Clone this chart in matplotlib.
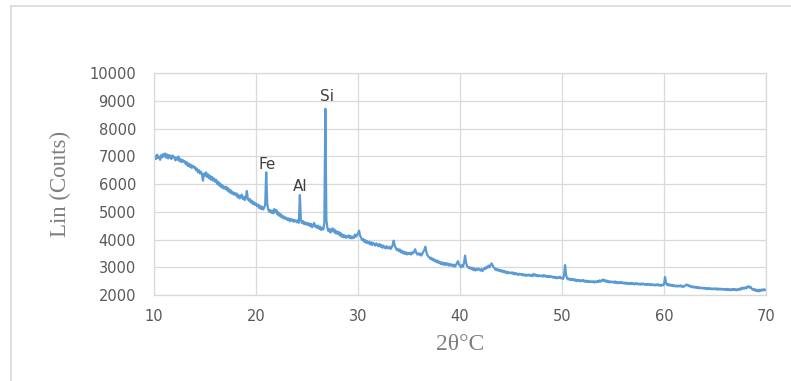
import numpy as np
import matplotlib
matplotlib.use("Agg")
import matplotlib.pyplot as plt
from matplotlib.lines import Line2D

# 2-theta positions (degrees), 0.1 step from 10 to 70
two_theta = np.round(np.arange(10.0, 70.0001, 0.1), 1)

# Intensity (counts), 10 values per degree
lin_counts = [
    6880, 7010, 6900, 7060, 6940, 6990, 6870, 7040, 6960, 7080,  # 10
    6990, 7100, 6950, 7060, 6920, 7040, 7000, 6900, 7030, 6960,  # 11
    6980, 6850, 6950, 6880, 6990, 6820, 6900, 6790, 6870, 6800,  # 12
    6830, 6720, 6790, 6650, 6740, 6620, 6700, 6580, 6660, 6590,  # 13
    6620, 6500, 6560, 6420, 6500, 6380, 6450, 6340, 6120, 6380,  # 14
    6300, 6420, 6250, 6350, 6200, 6300, 6150, 6250, 6120, 6200,  # 15
    6080, 6150, 6000, 6080, 5940, 6020, 5880, 5960, 5840, 5900,  # 16
    5820, 5900, 5760, 5840, 5700, 5780, 5660, 5720, 5620, 5680,  # 17
    5600, 5660, 5520, 5600, 5480, 5560, 5620, 5460, 5540, 5420,  # 18
    5500, 5750, 5460, 5400, 5460, 5330, 5400, 5280, 5340, 5250,  # 19
    5300, 5200, 5260, 5140, 5220, 5100, 5180, 5080, 5150, 5250,  # 20
    6420, 5300, 5080, 5000, 5060, 4960, 5040, 4940, 5100, 4980,  # 21
    5060, 4900, 4980, 4850, 4920, 4800, 4860, 4760, 4820, 4740,  # 22
    4780, 4700, 4760, 4660, 4740, 4680, 4720, 4640, 4700, 4660,  # 23
    4620, 4700, 4600, 5600, 4720, 4600, 4660, 4560, 4620, 4540,  # 24
    4600, 4520, 4580, 4480, 4560, 4440, 4520, 4600, 4460, 4500,  # 25
    4420, 4500, 4380, 4460, 4340, 4420, 4360, 4600, 8710, 4700,  # 26
    4420, 4300, 4380, 4250, 4350, 4400, 4280, 4360, 4220, 4300,  # 27
    4200, 4280, 4150, 4230, 4100, 4180, 4080, 4150, 4060, 4120,  # 28
    4080, 4150, 4050, 4120, 4040, 4100, 4060, 4180, 4100, 4150,  # 29
    4220, 4320, 4150, 4060, 3980, 4020, 3920, 3980, 3880, 3940,  # 30
    3860, 3920, 3820, 3900, 3800, 3880, 3840, 3780, 3860, 3800,  # 31
    3760, 3840, 3740, 3800, 3700, 3780, 3720, 3680, 3760, 3700,  # 32
    3680, 3740, 3660, 3720, 3800, 3960, 3780, 3700, 3620, 3660,  # 33
    3580, 3640, 3540, 3600, 3500, 3560, 3480, 3540, 3460, 3520,  # 34
    3480, 3520, 3460, 3540, 3500, 3560, 3650, 3540, 3460, 3500,  # 35
    3450, 3500, 3420, 3480, 3560, 3620, 3740, 3560, 3440, 3380,  # 36
    3360, 3300, 3340, 3260, 3300, 3220, 3260, 3180, 3240, 3160,  # 37
    3200, 3120, 3180, 3100, 3160, 3080, 3150, 3090, 3140, 3060,  # 38
    3120, 3060, 3100, 3040, 3090, 3020, 3080, 3150, 3220, 3100,  # 39
    3060, 3000, 3080, 3020, 3180, 3420, 3150, 3040, 3000, 2960,  # 40
    3000, 2940, 2980, 2900, 2960, 2880, 2940, 2900, 2960, 2920,  # 41
    2880, 2940, 2860, 2920, 2980, 2940, 3020, 2980, 3060, 3000,  # 42
    3080, 3140, 3060, 3000, 2960, 2900, 2940, 2880, 2920, 2860,  # 43
    2900, 2840, 2880, 2820, 2860, 2800, 2840, 2780, 2820, 2800,  # 44
    2780, 2820, 2760, 2800, 2740, 2790, 2760, 2720, 2770, 2740,  # 45
    2760, 2710, 2750, 2700, 2740, 2690, 2730, 2700, 2740, 2690,  # 46
    2720, 2680, 2760, 2700, 2740, 2680, 2720, 2670, 2710, 2680,  # 47
    2700, 2660, 2720, 2670, 2700, 2650, 2690, 2640, 2680, 2650,  # 48
    2670, 2630, 2660, 2610, 2650, 2600, 2640, 2610, 2660, 2600,  # 49
    2620, 2580, 2700, 3080, 2720, 2600, 2560, 2600, 2540, 2580,  # 50
    2540, 2580, 2520, 2560, 2500, 2550, 2510, 2540, 2490, 2530,  # 51
    2500, 2540, 2480, 2520, 2470, 2510, 2460, 2500, 2470, 2490,  # 52
    2460, 2500, 2450, 2490, 2460, 2510, 2470, 2530, 2480, 2520,  # 53
    2560, 2500, 2540, 2480, 2520, 2460, 2500, 2450, 2490, 2460,  # 54
    2480, 2440, 2490, 2430, 2470, 2420, 2460, 2430, 2470, 2420,  # 55
    2450, 2410, 2450, 2400, 2440, 2400, 2430, 2390, 2440, 2400,  # 56
    2420, 2380, 2430, 2390, 2420, 2380, 2410, 2370, 2420, 2380,  # 57
    2410, 2370, 2400, 2360, 2400, 2370, 2390, 2350, 2390, 2360,  # 58
    2380, 2340, 2380, 2350, 2390, 2340, 2370, 2330, 2370, 2350,  # 59
    2380, 2650, 2440, 2360, 2400, 2340, 2380, 2330, 2370, 2320,  # 60
    2350, 2310, 2340, 2300, 2340, 2310, 2350, 2300, 2330, 2290,  # 61
    2320, 2350, 2380, 2340, 2360, 2310, 2330, 2280, 2310, 2270,  # 62
    2300, 2260, 2290, 2250, 2280, 2240, 2270, 2240, 2260, 2230,  # 63
    2260, 2220, 2250, 2210, 2250, 2220, 2240, 2200, 2240, 2210,  # 64
    2240, 2200, 2240, 2190, 2230, 2200, 2230, 2190, 2220, 2190,  # 65
    2220, 2180, 2220, 2180, 2210, 2170, 2210, 2180, 2220, 2180,  # 66
    2210, 2170, 2210, 2180, 2230, 2190, 2260, 2220, 2270, 2230,  # 67
    2280, 2240, 2300, 2320, 2260, 2290, 2230, 2190, 2220, 2160,  # 68
    2200, 2140, 2180, 2130, 2190, 2150, 2200, 2160, 2210, 2170,  # 69
    2190,                                                        # 70
]

peak_labels = ["Fe", "Al", "Si"]
peak_label_x = [21.1, 24.3, 26.95]
peak_label_y = [6720, 5900, 9150]

x_ticks = [10, 20, 30, 40, 50, 60, 70]
y_ticks = [2000, 3000, 4000, 5000, 6000, 7000, 8000, 9000, 10000]

fig = plt.figure(figsize=(7.91, 3.81), dpi=100)
ax = fig.add_axes([0.1947, 0.2257, 0.7737, 0.5827])

ax.plot(two_theta, lin_counts, color="#5B9BD5", linewidth=1.6)

ax.set_xlim(10, 70)
ax.set_ylim(2000, 10000)
ax.set_xticks(x_ticks)
ax.set_yticks(y_ticks)
ax.grid(True, color="#D9D9D9", linewidth=0.9)
ax.set_axisbelow(True)
for s in ax.spines.values():
    s.set_color("#D9D9D9")
    s.set_linewidth(0.9)
ax.tick_params(axis="both", length=0, colors="#595959", labelsize=10.5)
ax.tick_params(axis="y", pad=13)
ax.tick_params(axis="x", pad=10)

ax.set_ylabel("Lin (Couts)", family="Liberation Serif", fontsize=16.5,
              color="#7F7F7F", labelpad=13)
ax.set_xlabel("2θ°C", family="Liberation Serif", fontsize=17,
              color="#7F7F7F", labelpad=7)

for lab, lx, ly in zip(peak_labels, peak_label_x, peak_label_y):
    ax.text(lx, ly, lab, ha="center", va="center", fontsize=11,
            color="#404040")

# Chart-area border (top and left edges visible)
fig.add_artist(Line2D([11 / 791, 1.0], [1 - 5.5 / 381, 1 - 5.5 / 381],
                      transform=fig.transFigure, color="#D9D9D9", linewidth=1.2))
fig.add_artist(Line2D([11 / 791, 11 / 791], [0.0, 1 - 5.5 / 381],
                      transform=fig.transFigure, color="#D9D9D9", linewidth=1.2))

fig.savefig("out.png", dpi=100)
